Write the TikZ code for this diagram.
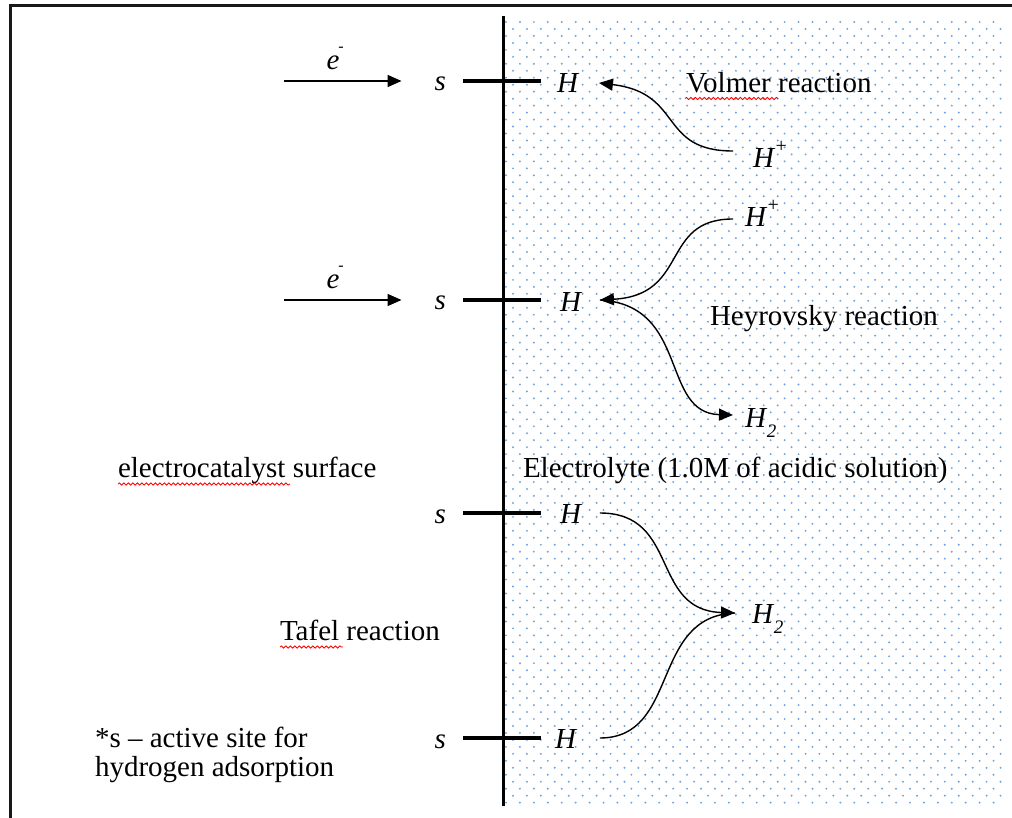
\documentclass[tikz,border=0pt]{standalone}
\usepackage{fontspec}
\setmainfont{Liberation Serif}
\usetikzlibrary{arrows.meta,decorations.pathmorphing}
\definecolor{dotc}{RGB}{110,165,222}
\newcommand{\supplus}{\kern0.5pt\raisebox{15pt}{\fontsize{20}{20}\selectfont +}}
\newcommand{\supminus}{\kern-1pt\raisebox{18pt}{\fontsize{16}{16}\selectfont -}}
\newcommand{\subtwo}{\kern1pt\raisebox{-10pt}{\fontsize{19}{19}\selectfont\itshape 2}}
\begin{document}
\begin{tikzpicture}[x=1pt,y=-1pt,
  txt/.style={font=\fontsize{29}{34}\selectfont, inner sep=0pt, outer sep=0pt, anchor=base west},
  sym/.style={txt, font=\fontsize{29}{34}\selectfont\itshape},
  frame/.style={line width=2.5pt, black!90},
  surface/.style={line width=3.6pt},
  bond/.style={line width=3.2pt},
  earrow/.style={line width=1.5pt, -{Triangle[length=14pt,width=12pt]}},
  curve/.style={line width=1.4pt, -{Triangle[length=14pt,width=12pt]}},
  plain/.style={line width=1.4pt},
  wavy/.style={red, line width=0.8pt, decorate, decoration={snake, amplitude=1.1pt, segment length=4.5pt}}]
\useasboundingbox (0,0) rectangle (1012,818);
% dotted electrolyte region
\foreach \j in {0,...,112}{
  \pgfmathsetmacro\off{mod(\j,2)*7}
  \foreach \i in {0,...,35}{
    \fill[dotc] (506+\off+13.93*\i, 22+6.97*\j) circle (1.1pt);
  }
}
% frame
\draw[frame] (9,5.5) -- (1012,5.5);
\draw[frame] (10.5,4.5) -- (10.5,818);
% electrode surface
\coordinate (stop) at (503.5,16);
\coordinate (sbot) at (503.5,806);
\draw[surface] (stop) -- (sbot);

% row 1 (Volmer)
\node[sym] (e1) at (326.5,70) {e\supminus};
\node[sym] (s1) at (434.5,91) {s};
\node[sym] (H1) at (557,93) {H};
\node[sym] (Hp1) at (753,168) {H\supplus};
\node[txt] (vol) at (686,93) {Volmer reaction};
\coordinate (ea1) at (284,81);
\coordinate (b1a) at (463,81);
\coordinate (b1b) at (541,81);
\draw[earrow] (ea1) -- ([xshift=-33pt,yshift=10pt]s1.base west);
\draw[bond] (b1a) -- (b1b);
\draw[curve] ([xshift=-20pt,yshift=17pt]Hp1.base west) .. controls +(-75,0) and +(85,10) .. ([xshift=21pt,yshift=10pt]H1.base east);
\draw[wavy] (685,98.5) -- (778,98.5);

% row 2 (Heyrovsky)
\node[sym] (e2) at (326.5,289) {e\supminus};
\node[sym] (s2) at (434.5,310) {s};
\node[sym] (H2) at (560,312) {H};
\node[sym] (Hp2) at (745,227) {H\supplus};
\node[sym] (H2a) at (745,427) {H\subtwo};
\node[txt] (hey) at (710,326) {Heyrovsky reaction};
\coordinate (ea2) at (284,300);
\coordinate (b2a) at (463,300);
\coordinate (b2b) at (541,300);
\draw[earrow] (ea2) -- ([xshift=-33pt,yshift=10pt]s2.base west);
\draw[bond] (b2a) -- (b2b);
\draw[curve] ([xshift=-12pt,yshift=8pt]Hp2.base west) .. controls +(-73,0) and +(90,-5) .. ([xshift=19pt,yshift=12pt]H2.base east);
\draw[curve] ([xshift=19pt,yshift=12pt]H2.base east) .. controls +(90,5) and +(-73,-2) .. ([xshift=-12pt,yshift=12pt]H2a.base west);

% labels in the middle
\node[txt] (surf) at (118,477) {electrocatalyst surface};
\draw[wavy] (118,484) -- (290,484);
\node[txt] (elec) at (523,477) {Electrolyte (1.0M of acidic solution)};

% rows 3 and 4 (Tafel)
\node[sym] (s3) at (434.5,523) {s};
\node[sym] (H3) at (560,523) {H};
\node[sym] (s4) at (434.5,748) {s};
\node[sym] (H4) at (555,748) {H};
\node[sym] (H2b) at (752,623) {H\subtwo};
\node[txt] (taf) at (280,640) {Tafel reaction};
\draw[wavy] (280,647) -- (343,647);
\coordinate (b3a) at (463,513);
\coordinate (b3b) at (541,513);
\coordinate (b4a) at (463,738);
\coordinate (b4b) at (541,738);
\draw[bond] (b3a) -- (b3b);
\draw[bond] (b4a) -- (b4b);
\draw[curve] ([xshift=19pt,yshift=10pt]H3.base east) .. controls +(80,0) and +(-85,-3) .. ([xshift=-17pt,yshift=10pt]H2b.base west);
\draw[plain] ([xshift=24pt,yshift=10pt]H4.base east) .. controls +(80,0) and +(-85,3) .. ([xshift=-17pt,yshift=10pt]H2b.base west);

% note
\node[txt] (note1) at (95,747) {*s – active site for};
\node[txt] (note2) at (95,776) {hydrogen adsorption};
\end{tikzpicture}
\end{document}
